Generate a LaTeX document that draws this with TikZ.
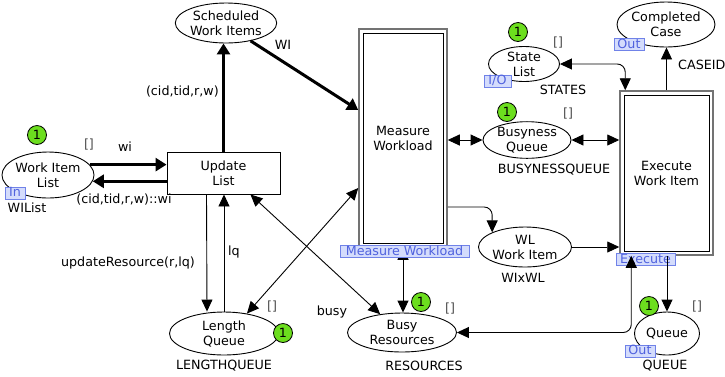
\documentclass[tikz,border=0pt]{standalone}
\usepackage{fontspec}
\setmainfont{DejaVu Sans}
\usepackage{xcolor}
\usepackage{tikz}
\usetikzlibrary{shapes.geometric}
\usetikzlibrary{arrows.meta}
\usetikzlibrary{calc}
\definecolor{tokgreen}{RGB}{108,222,30}
\definecolor{tagfill}{RGB}{212,220,252}
\definecolor{tagline}{RGB}{112,130,232}
\definecolor{tagtext}{RGB}{80,98,222}
\tikzset{
  place/.style={ellipse,draw,line width=0.9pt,inner sep=0pt,align=center},
  trans/.style={draw,line width=0.9pt,inner sep=0pt,align=center},
  subst/.style={trans,draw=black!55,line width=1.5pt,path picture={\draw[black,line width=0.9pt] ([shift={(4pt,-4pt)}]path picture bounding box.north west) rectangle ([shift={(-4pt,4pt)}]path picture bounding box.south east);}},
  tag/.style={draw=tagline,fill=tagfill,text=tagtext,line width=0.8pt,inner xsep=1pt,inner ysep=0pt,text height=9.5pt,text depth=2.5pt},
  token/.style={circle,draw,fill=tokgreen,minimum size=19pt,inner sep=0pt,line width=0.8pt},
  init/.style={text=black!70,inner sep=1pt},
  arc/.style={line width=0.9pt,>={Triangle[length=12pt,width=11pt]},->},
  arcb/.style={line width=0.9pt,>={Triangle[length=12pt,width=11pt]},<->},
  thickarc/.style={line width=3pt,>={Triangle[length=11pt,width=13pt]},->}
}
\begin{document}
\begin{tikzpicture}[x=1pt,y=-1pt,font=\fontsize{12.7}{15}\selectfont]
\useasboundingbox (0,0) rectangle (725,376);
\node[place,minimum width=87pt,minimum height=46pt] (wil) at (48,175) {Work Item\\List};
\node[place,minimum width=95pt,minimum height=40pt] (swi) at (226,23) {Scheduled\\Work Items};
\node[trans,minimum width=113pt,minimum height=42pt] (upd) at (223.5,173) {Update\\List};
\node[subst,minimum width=88pt,minimum height=218pt] (mw) at (403,138) {Measure\\Workload};
\node[subst,minimum width=93pt,minimum height=164pt] (ex) at (666.5,173) {Execute\\Work Item};
\node[place,minimum width=98pt,minimum height=45pt] (cc) at (666,24.5) {Completed\\Case};
\node[place,minimum width=71pt,minimum height=35pt] (sl) at (524,64) {State\\List};
\node[place,minimum width=88pt,minimum height=36pt] (bq) at (527,140) {Busyness\\Queue};
\node[place,minimum width=93pt,minimum height=40pt] (wl) at (525,247) {WL\\Work Item};
\node[place,minimum width=109pt,minimum height=39pt] (br) at (402,332.5) {Busy\\Resources};
\node[place,minimum width=65pt,minimum height=43pt] (q) at (667,333.5) {Queue};
\node[place,minimum width=109pt,minimum height=43pt] (lq) at (224,333.5) {Length\\Queue};

\draw[arcb] (mw.south) -- (mw.south |- br.north);

\node[tag,minimum width=20pt] (tin) at (15,193) {In};
\node[tag,minimum width=30pt] (tcc) at (629,44.5) {Out};
\node[tag,minimum width=27pt] (tsl) at (497.5,81) {I/O};
\node[tag,minimum width=129pt] (tmw) at (404.5,251.5) {Measure Workload};
\node[tag,minimum width=59pt] (tex) at (645.5,259.5) {Execute};
\node[tag,minimum width=30pt] (tq) at (640,351) {Out};

\draw[thickarc] (wil.14) -- (wil.14 -| upd.west);
\draw[thickarc] (wil.-8 -| upd.west) -- (wil.-8);
\draw[thickarc] (upd.north) -- (upd.north |- swi.south);
\draw[thickarc] (swi.-36) -- ([yshift=28pt]mw.west);
\draw[arcb] (mw.east |- bq.west) -- (bq.west);
\draw[arcb] (bq.east) -- (bq.east -| ex.west);
\draw[arcb,rounded corners=8pt] (sl.east) -| ([xshift=6pt]ex.north west);
\draw[arc] (ex.north) -- (ex.north |- cc.south);
\draw[arc,rounded corners=8pt] ([yshift=-69pt]mw.east) -| (wl.156);
\draw[arc] (wl.east) -- (wl.east -| ex.west);
\draw[arcb,rounded corners=8pt] ([xshift=12pt]ex.south west) |- (br.east);
\draw[arc] (ex.south -| q.north) -- (q.north);
\draw[arc] ([xshift=-17pt]upd.south) -- ([xshift=-17pt]lq.north);
\draw[arc] (lq.north) -- (lq.north |- upd.south);
\draw[arcb] (lq.41) -- ([yshift=-50pt]mw.west);
\draw[arcb] ([xshift=-30pt]upd.south east) -- (br.140);

\node[token] (k1) at (37,135) {1};
\node[token] (k2) at (518,32) {1};
\node[token] (k3) at (507,112) {1};
\node[token] (k4) at (421,302) {1};
\node[token] (k5) at (649,306) {1};
\node[token] (k6) at (283,333) {1};

\node[init] (m1) at (89,145) {[]};
\node[init] (m2) at (558,43) {[]};
\node[init] (m3) at (568,114) {[]};
\node[init] (m4) at (450,309) {[]};
\node[init] (m5) at (697,307) {[]};
\node[init] (m6) at (272,307) {[]};

\node (c1) at (27,208) {WIList};
\node (c2) at (563,90) {STATES};
\node (c3) at (554,170) {BUSYNESSQUEUE};
\node (c4) at (523,278) {WIxWL};
\node (c5) at (424,366) {RESOURCES};
\node (c6) at (665,366) {QUEUE};
\node (c7) at (224,366) {LENGTHQUEUE};
\node[anchor=west,inner sep=0pt] (c8) at (678,65) {CASEID};

\node (a1) at (125,147) {wi};
\node (a2) at (124,200) {(cid,tid,r,w)::wi};
\node[anchor=east,inner sep=0pt] (a3) at (219,92) {(cid,tid,r,w)};
\node (a4) at (283,45) {WI};
\node (a5) at (128,263) {updateResource(r,lq)};
\node (a6) at (234,252) {lq};
\node (a7) at (332,312) {busy};
\end{tikzpicture}
\end{document}
